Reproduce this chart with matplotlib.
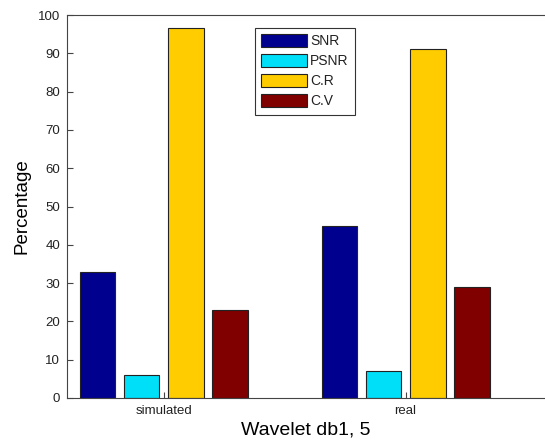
import numpy as np
import matplotlib.pyplot as plt

plt.rcParams['font.family'] = ['Liberation Sans', 'DejaVu Sans']

groups = ['simulated', 'real']
series = ['SNR', 'PSNR', 'C.R', 'C.V']
snr = [33, 45]
psnr = [6, 7]
cr = [96.7, 91.2]
cv = [23, 29]
colors = ['#00008F', '#00DFF8', '#FFCC00', '#800000']

fig = plt.figure(figsize=(5.45, 4.42), dpi=100)
ax = fig.add_axes([67 / 545, 1 - 398 / 442, 1 - 67 / 545, 383 / 442])

x = np.arange(1, len(groups) + 1)
slot = 0.182
width = 0.148
for i, (name, vals) in enumerate(zip(series, [snr, psnr, cr, cv])):
    ax.bar(x + (i - 1.5) * slot, vals, width, color=colors[i],
           edgecolor='#222222', linewidth=0.8, label=name)

ax.set_xlim(0.601, 2.576)
ax.set_ylim(0, 100)
ax.set_yticks(np.arange(0, 101, 10))
ax.set_xticks(x)
ax.set_xticklabels(groups)
ax.tick_params(direction='in', length=4, labelsize=9.5, color='#444444',
               labelcolor='#222222')
ax.tick_params(axis='y', pad=5)
ax.tick_params(axis='x', pad=5)
ax.spines['right'].set_visible(False)
for s in ['left', 'bottom', 'top']:
    ax.spines[s].set_color('#444444')

ax.set_ylabel('Percentage', fontsize=13.5, labelpad=5)
ax.set_xlabel('Wavelet db1, 5', fontsize=14, labelpad=3)

leg = ax.legend(loc='upper left', bbox_to_anchor=((255 - 67) / 478, (398 - 28) / 383),
                fontsize=10, frameon=True, fancybox=False, edgecolor='black',
                handlelength=3.3, handleheight=1.05, handletextpad=0.2,
                labelspacing=0.42, borderpad=0.45, borderaxespad=0)
leg.get_frame().set_linewidth(0.8)
for t in leg.get_texts():
    t.set_color('#222222')

fig.savefig('out.png', dpi=100)
